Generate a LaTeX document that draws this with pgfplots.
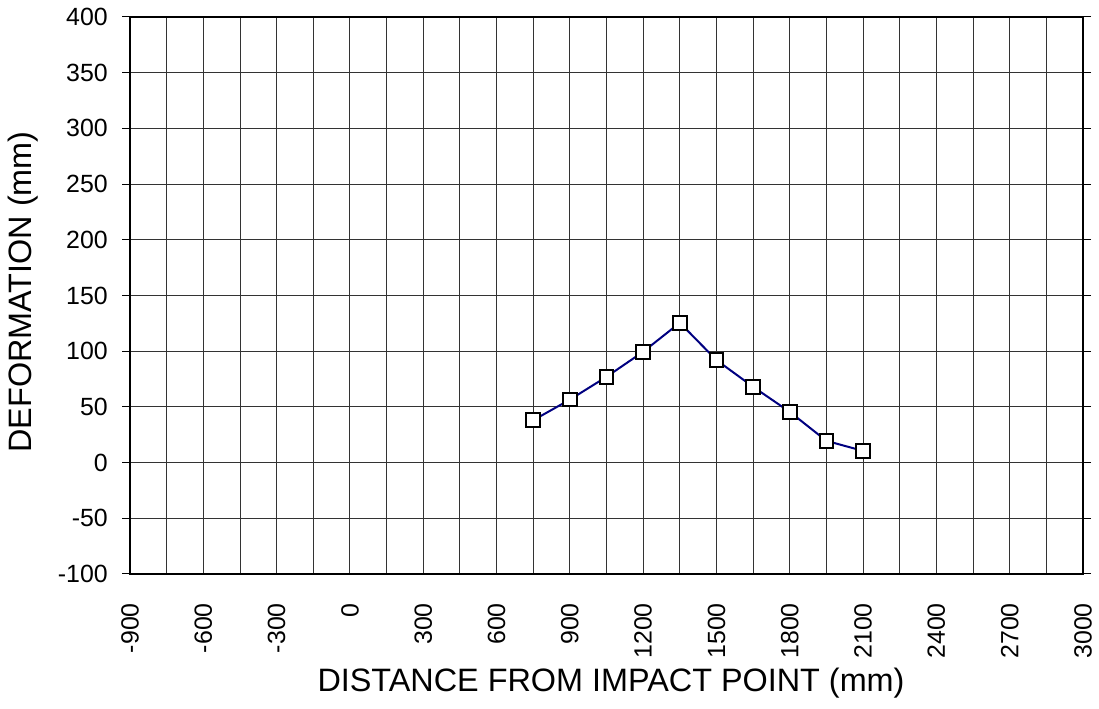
\documentclass[border=0pt]{standalone}
\usepackage{fontspec}
\setmainfont{Liberation Sans}
\usepackage{pgfplots}
\pgfplotsset{compat=1.18}
\definecolor{navyline}{RGB}{0,0,128}
\begin{document}
\begin{tikzpicture}[x=1bp,y=1bp]
\useasboundingbox (0,0) rectangle (1099,709);
\begin{axis}[
  at={(130bp,135bp)}, anchor=south west,
  scale only axis, width=953bp, height=557bp,
  xmin=-900, xmax=3000, ymin=-100, ymax=400,
  xtick={-900,-600,...,3000},
  xticklabels={-900,-600,-300,0,300,600,900,1200,1500,1800,2100,2400,2700,3000},
  minor xtick={-750,-450,...,2850},
  ytick={-100,-50,...,400},
  yticklabels={-100,-50,0,50,100,150,200,250,300,350,400},
  grid=both,
  major grid style={draw=black!80, line width=0.9bp},
  minor grid style={draw=black!80, line width=0.9bp},
  axis line style={line width=1.3bp, black},
  tick align=outside,
  major tick length=8bp,
  xtick style={draw=none},
  minor tick style={draw=none},
  ytick style={black, line width=1bp},
  x tick label style={rotate=90, anchor=east, inner sep=0pt, font=\fontsize{25}{25}\selectfont},
  xticklabel shift=21bp,
  y tick label style={anchor=east, inner sep=0pt, font=\fontsize{25}{25}\selectfont},
  yticklabel shift=14bp,
]
\addplot[color=navyline, line width=2bp, mark=square*, mark size=6.8bp,
  mark options={fill=white, draw=black, line width=2bp}]
  coordinates {
  (750,38) (900,56.5) (1050,77) (1200,99.5) (1350,125.5)
  (1500,92) (1650,68) (1800,45.5) (1950,19.5) (2100,10.5)
  };
\end{axis}
\node[rotate=90, font=\fontsize{32.5}{32.5}\selectfont] at (23,417) {DEFORMATION (mm)};
\node[font=\fontsize{32.5}{32.5}\selectfont] at (611,26) {DISTANCE FROM IMPACT POINT (mm)};
\end{tikzpicture}
\end{document}
